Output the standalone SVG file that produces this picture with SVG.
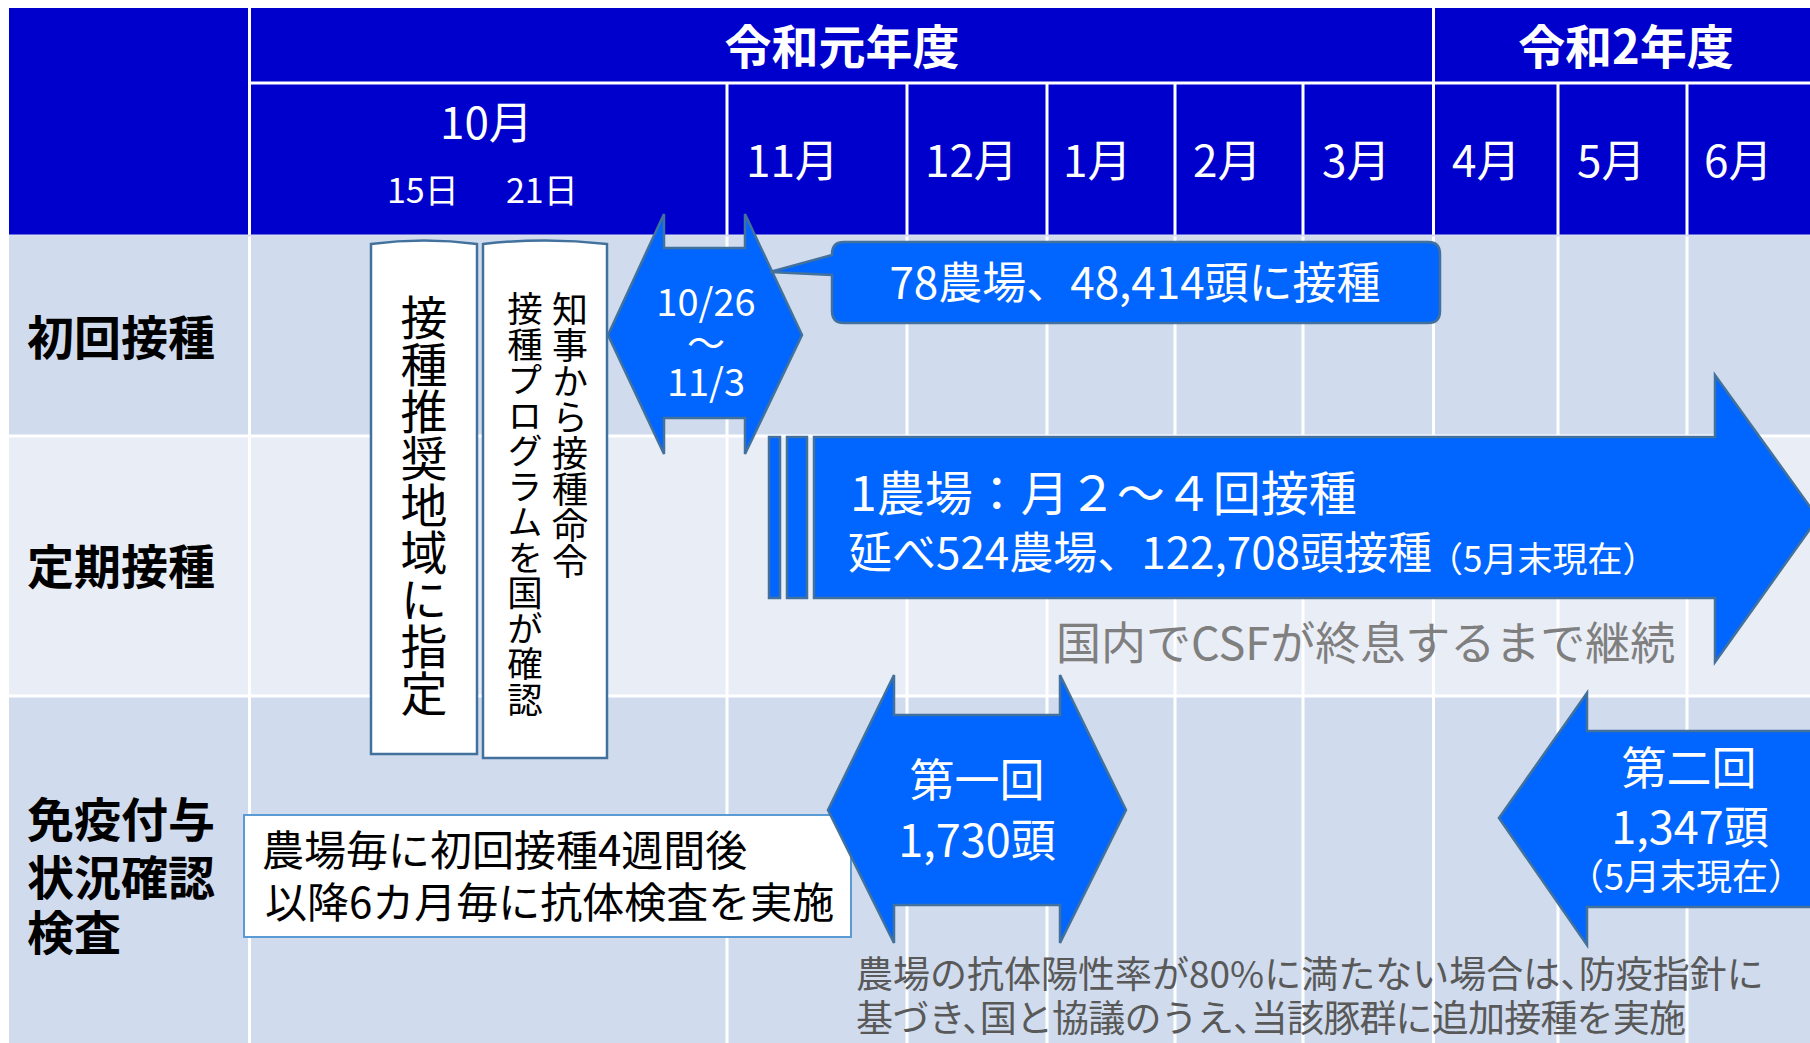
<svg xmlns="http://www.w3.org/2000/svg" width="1810" height="1043" viewBox="0 0 1810 1043">
<style>
text{font-family:"Noto Sans CJK JP","Noto Sans",sans-serif;dominant-baseline:central;}
.hd{fill:#ffffff;}
.b{font-weight:bold;}
.lbl{font-size:47px;font-weight:bold;fill:#000000;}
.mo{font-size:44px;fill:#ffffff;}
.grid{stroke:#ffffff;stroke-width:3;fill:none;}
.shp{fill:#0066FF;stroke:#41719C;stroke-width:2.5;stroke-linejoin:miter;}
.vbox{fill:#ffffff;stroke:#41719C;stroke-width:2.5;}
.wt{fill:#ffffff;}
.vt{writing-mode:vertical-rl;fill:#000000;}
.halt{font-feature-settings:"halt";}
</style>
<rect x="0" y="0" width="1810" height="1043" fill="#ffffff"/>
<g id="table">
  <rect x="9" y="8" width="1801" height="227" fill="#0000CC"/>
  <rect x="9" y="235" width="1801" height="201" fill="#D0DCEE"/>
  <rect x="9" y="436" width="1801" height="260" fill="#E9EDF6"/>
  <rect x="9" y="696" width="1801" height="347" fill="#D0DCEE"/>
  <g class="grid">
    <line x1="249.5" y1="8" x2="249.5" y2="1043"/>
    <line x1="1433.5" y1="8" x2="1433.5" y2="1043"/>
    <line x1="249" y1="83" x2="1810" y2="83"/>
    <line x1="727" y1="83" x2="727" y2="1043"/>
    <line x1="907" y1="83" x2="907" y2="1043"/>
    <line x1="1047" y1="83" x2="1047" y2="1043"/>
    <line x1="1175" y1="83" x2="1175" y2="1043"/>
    <line x1="1303" y1="83" x2="1303" y2="1043"/>
    <line x1="1558" y1="83" x2="1558" y2="1043"/>
    <line x1="1687" y1="83" x2="1687" y2="1043"/>
    <line x1="9" y1="235.5" x2="1810" y2="235.5" stroke="#D8DDF0" stroke-width="2"/>
    <line x1="9" y1="436" x2="1810" y2="436"/>
    <line x1="9" y1="696" x2="1810" y2="696"/>
  </g>
  <text class="hd b" x="842" y="43" font-size="47" text-anchor="middle">令和元年度</text>
  <text class="hd b" x="1626" y="43" font-size="47" text-anchor="middle">令和2年度</text>
  <text class="mo" x="440" y="120">10月</text>
  <text class="hd" x="387" y="188" font-size="34">15日</text>
  <text class="hd" x="506" y="188" font-size="34">21日</text>
  <text class="mo" x="746" y="158">11月</text>
  <text class="mo" x="925" y="158">12月</text>
  <text class="mo" x="1063" y="158">1月</text>
  <text class="mo" x="1193" y="158">2月</text>
  <text class="mo" x="1322" y="158">3月</text>
  <text class="mo" x="1452" y="158">4月</text>
  <text class="mo" x="1577" y="158">5月</text>
  <text class="mo" x="1704" y="158">6月</text>
  <text class="lbl" x="27" y="334">初回接種</text>
  <text class="lbl" x="27" y="563">定期接種</text>
  <text class="lbl" x="27" y="816">免疫付与</text>
  <text class="lbl" x="27" y="874">状況確認</text>
  <text class="lbl" x="27" y="929">検査</text>
</g>
<g id="node-designation">
  <path class="vbox" d="M371,244 Q424,237 477,244 L477,754 L371,754 Z"/>
  <text class="vt" x="424" y="294" font-size="47">接種推奨地域に指定</text>
</g>
<g id="node-program">
  <path class="vbox" d="M483,244 Q545,237 607,244 L607,758 L483,758 Z"/>
  <text class="vt" x="570" y="291" font-size="36">知事から接種命令</text>
  <text class="vt" x="525" y="291" font-size="35.5">接種プログラムを国が確認</text>
</g>
<g id="node-initial-period">
  <polygon class="shp" points="608,335 664,214 664,248 745,248 745,214 802,335 745,454 745,418 664,418 664,454"/>
  <text class="wt" x="706" y="299" font-size="38" text-anchor="middle">10/26</text>
  <text class="wt" x="706" y="340" font-size="38" text-anchor="middle">～</text>
  <text class="wt" x="706" y="379" font-size="38" text-anchor="middle">11/3</text>
</g>
<g id="node-initial-callout">
  <path class="shp" d="M844,242 H1428 Q1440,242 1440,254 V311 Q1440,323 1428,323 H844 Q832,323 832,311 V275 L770,272 L832,255 V254 Q832,242 844,242 Z"/>
  <text class="wt" x="1135" y="280" font-size="44" text-anchor="middle">78農場、48,414頭に接種</text>
</g>
<g id="node-regular">
  <rect class="shp" x="769" y="437" width="11" height="161"/>
  <rect class="shp" x="787" y="437" width="20" height="161"/>
  <polygon class="shp" points="814,437 1715,437 1715,375 1818,518 1715,662 1715,598 814,598"/>
  <text class="wt" x="850" y="490" font-size="48">1農場：月２～４回接種</text>
  <text class="wt" x="848" y="550" font-size="44">延べ524農場、122,708頭接種</text>
  <text class="wt" x="1428" y="556" font-size="35">（5月末現在）</text>
</g>
<g id="node-continue">
  <text x="1056" y="640" font-size="45" fill="#7F7F7F">国内でCSFが終息するまで継続</text>
</g>
<g id="node-test-note">
  <rect x="244" y="815" width="607" height="122" fill="#ffffff" stroke="#5B9BD5" stroke-width="2"/>
  <text x="262" y="847" font-size="42" fill="#000000">農場毎に初回接種4週間後</text>
  <text x="265" y="899" font-size="42" fill="#000000">以降6カ月毎に抗体検査を実施</text>
</g>
<g id="node-first">
  <polygon class="shp" points="828,810 894,675 894,715 1060,715 1060,675 1126,810 1060,943 1060,905 894,905 894,943"/>
  <text class="wt" x="977" y="777" font-size="45" text-anchor="middle">第一回</text>
  <text class="wt" x="977" y="837" font-size="45" text-anchor="middle">1,730頭</text>
</g>
<g id="node-second">
  <polygon class="shp" points="1499,818 1587,693 1587,731 1830,731 1830,907 1587,907 1587,945"/>
  <text class="wt" x="1689" y="765" font-size="45" text-anchor="middle">第二回</text>
  <text class="wt" x="1690" y="824" font-size="45" text-anchor="middle">1,347頭</text>
  <text class="wt" x="1686" y="874" font-size="36" text-anchor="middle">（5月末現在）</text>
</g>
<g id="node-additional-note">
  <text class="halt" x="856" y="972" font-size="37" fill="#595959">農場の抗体陽性率が80%に満たない場合は、防疫指針に</text>
  <text class="halt" x="856" y="1016" font-size="37" fill="#595959" letter-spacing="-0.8">基づき、国と協議のうえ、当該豚群に追加接種を実施</text>
</g>
</svg>
